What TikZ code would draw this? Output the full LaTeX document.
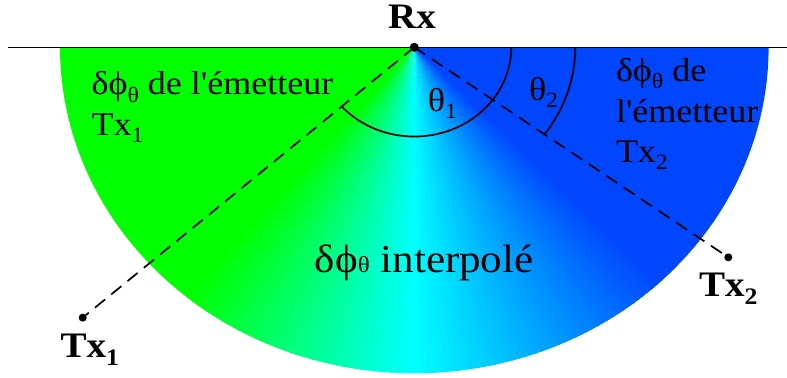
\documentclass[tikz,border=0pt]{standalone}
\usepackage{fontspec}
\setmainfont{Liberation Serif}[Ligatures=TeXOff]
\usepackage{graphicx}
\newcommand{\sq}[1]{\scalebox{1}[0.92]{#1}}
\newcommand{\lsub}[1]{\raisebox{-0.22em}{\scalebox{0.66}{#1}}}
\definecolor{cgreen}{RGB}{0,255,0}
\definecolor{cblue}{RGB}{0,70,255}
\begin{document}
\begin{tikzpicture}[x=1pt,y=0.92pt,
  lbl/.style={inner sep=0pt, outer sep=0pt, text=black},
  dotnode/.style={circle, fill=black, inner sep=0pt, minimum size=8pt},
  dashline/.style={dash pattern=on 13pt off 8pt, line width=1.7pt},
  angarc/.style={line width=1.7pt},
]
\useasboundingbox (-414.3,-358.4) rectangle (372.7,51.4);
\coordinate (Rx) at (0,0);
\def\R{354.3}
% conic gradient half disc
\fill[cgreen] (Rx) -- (180:\R) arc[start angle=180, end angle=230.6, radius=\R] -- cycle;
\foreach \a in {230,...,315}{
  \pgfmathsetmacro{\d}{\a+0.5-270}
  \pgfmathtruncatemacro{\gg}{\d<0 ? 255 : round(255-(255-70)*min(1,\d/44))}
  \pgfmathtruncatemacro{\bb}{\d<0 ? round(255*max(0,1+\d/40)) : 255}
  \definecolor{wc}{RGB}{0,\gg,\bb}
  \fill[wc] (Rx) -- (\a:\R) arc[start angle=\a, end angle=\a+1.6, radius=\R] -- cycle;
}
\fill[cblue] (Rx) -- (316:\R) arc[start angle=316, end angle=360, radius=\R] -- cycle;
% horizontal line
\coordinate (hl) at (-406.3,0);
\coordinate (hr) at (372.7,0);
\draw[line width=1.4pt] (hl) -- (hr);
% dots
\node[dotnode, minimum size=9pt] (rxdot) at (Rx) {};
\node[dotnode] (tx1) at (-331.6,-293.9) {};
\node[dotnode] (tx2) at (314,-228.3) {};
% dashed lines
\draw[dashline] (rxdot.center) -- (tx1.center);
\draw[dashline] (rxdot.center) -- (tx2.center);
% angle arcs
\draw[angarc] (Rx) ++(221.55:97) arc[start angle=221.55, end angle=360, radius=97];
\draw[angarc] (Rx) ++(0:161) arc[start angle=0, end angle=-36, radius=161];
% labels
\node[lbl, anchor=base] (rxl) at (-2.3,19.9) {\sq{\fontsize{39}{40}\selectfont\bfseries Rx}};
\node[lbl, anchor=base west] (tx1l) at (-353.6,-337.4) {\sq{\fontsize{39}{40}\selectfont\bfseries Tx\lsub{1}}};
\node[lbl, anchor=base west] (tx2l) at (284.7,-271.4) {\sq{\fontsize{39}{40}\selectfont\bfseries Tx\lsub{2}}};
\node[lbl, anchor=base west] (em1) at (-322.6,-51.8) {\sq{\fontsize{36}{44}\selectfont\begin{tabular}[t]{@{}l@{}}δϕ\lsub{θ} de l'émetteur\\ Tx\lsub{1}\end{tabular}}};
\node[lbl, anchor=base west] (em2) at (201.7,-37.4) {\sq{\fontsize{36}{44}\selectfont\begin{tabular}[t]{@{}l@{}}δϕ\lsub{θ} de\\ l'émetteur\\ Tx\lsub{2}\end{tabular}}};
\node[lbl, anchor=base west] (interp) at (-99.3,-245) {\sq{\fontsize{43}{48}\selectfont δϕ{\fontsize{25}{25}\selectfont θ} interpolé}};
\node[lbl, anchor=base west] (t1) at (13.7,-70) {\sq{\fontsize{36}{40}\selectfont θ\lsub{1}}};
\node[lbl, anchor=base west] (t2) at (114.7,-57.6) {\sq{\fontsize{36}{40}\selectfont θ\lsub{2}}};
\end{tikzpicture}
\end{document}
